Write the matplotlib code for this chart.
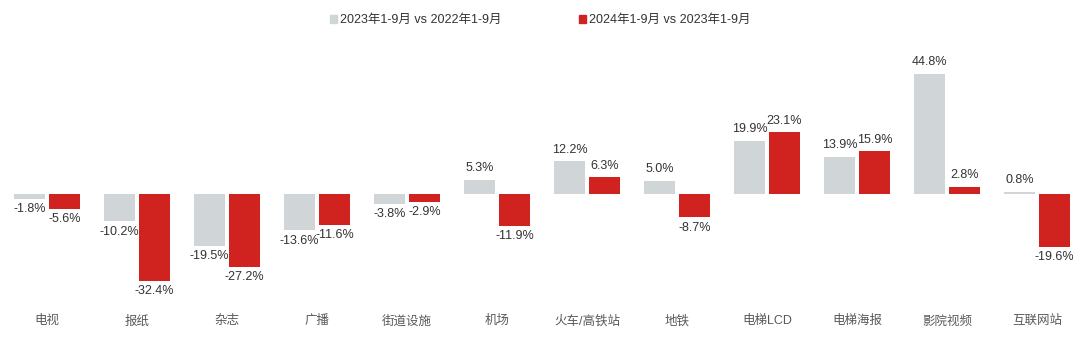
import numpy as np
import matplotlib
matplotlib.use("Agg")
from matplotlib import pyplot as plt
from matplotlib.patches import Patch

plt.rcParams['font.family'] = ['Liberation Sans', 'Noto Sans CJK SC', 'DejaVu Sans']

categories = ["电视", "报纸", "杂志", "广播", "街道设施", "机场", "火车/高铁站",
              "地铁", "电梯LCD", "电梯海报", "影院视频", "互联网站"]
growth_2023 = [-1.8, -10.2, -19.5, -13.6, -3.8, 5.3, 12.2, 5.0, 19.9, 13.9, 44.8, 0.8]
growth_2024 = [-5.6, -32.4, -27.2, -11.6, -2.9, -11.9, 6.3, -8.7, 23.1, 15.9, 2.8, -19.6]
series_labels = ["2023年1-9月 vs 2022年1-9月", "2024年1-9月 vs 2023年1-9月"]

GREY = "#d0d5d8"
RED = "#d0221e"
TEXT = "#333333"

fig = plt.figure(figsize=(10.8, 3.39), dpi=100)
ax = fig.add_axes([0, 0, 1, 1])

x = np.arange(len(categories))
w = 0.345
off = 0.195

for vals, color, dx in ((growth_2023, GREY, -off), (growth_2024, RED, off)):
    bars = ax.bar(x + dx, vals, width=w, color=color, linewidth=0)
    for b, v in zip(bars, vals):
        cx = b.get_x() + b.get_width() / 2
        if v >= 0:
            ax.annotate(f"{v:.1f}%", (cx, v), xytext=(0, 4), textcoords="offset points",
                        ha="center", va="bottom", fontsize=9, color=TEXT)
        else:
            ax.annotate(f"{v:.1f}%", (cx, v), xytext=(0, -3), textcoords="offset points",
                        ha="center", va="top", fontsize=9, color=TEXT)

# category names along the bottom
for i, name in enumerate(categories):
    ax.text(i, -47.5, name, ha="center", va="center", fontsize=9, color="#595959")

ax.set_xlim(-0.522, 11.478)
ax.set_ylim(-54.1, 72.4)
ax.axis("off")

handles = [Patch(color=GREY, label=series_labels[0]), Patch(color=RED, label=series_labels[1])]
leg = fig.legend(handles=handles, loc="center", bbox_to_anchor=(0.5, 0.94), ncol=2,
                 frameon=False, fontsize=9, handlelength=0.55, handleheight=0.55,
                 handletextpad=0.25, columnspacing=6.2)
for t in leg.get_texts():
    t.set_color(TEXT)

fig.savefig("out.png", dpi=100, facecolor="white")
